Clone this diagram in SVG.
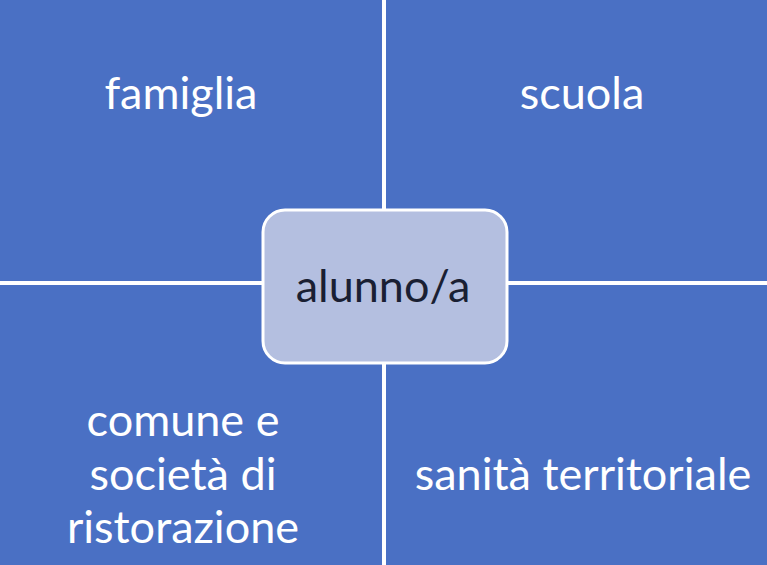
<svg xmlns="http://www.w3.org/2000/svg" width="767" height="565" viewBox="0 0 767 565">
<style>
.q{fill:#4a70c4}
.t{font-family:Lato,"Open Sans","Liberation Sans",sans-serif;font-size:45px;fill:#ffffff;text-anchor:middle}
.c{font-family:Lato,"Open Sans","Liberation Sans",sans-serif;font-size:45px;fill:#1a1f33;text-anchor:middle}
.ln{stroke:#ffffff;stroke-width:4;fill:none}
</style>
<rect x="0" y="0" width="767" height="565" class="q"/>
<g id="connectors">
<line class="ln" x1="384" y1="0" x2="384" y2="565"/>
<line class="ln" x1="0" y1="283" x2="767" y2="283"/>
</g>
<g id="famiglia"><text class="t" x="181" y="109">famiglia</text></g>
<g id="scuola"><text class="t" x="582" y="109">scuola</text></g>
<g id="comune"><text class="t" x="183" y="436">comune e</text><text class="t" x="183" y="490">società di</text><text class="t" x="183" y="543">ristorazione</text></g>
<g id="sanita"><text class="t" x="583" y="490">sanità territoriale</text></g>
<g id="alunno"><rect x="263" y="210" width="244" height="153" rx="22" fill="#b4bfe0" stroke="#ffffff" stroke-width="3"/><text class="c" x="383" y="302">alunno/a</text></g>
</svg>
